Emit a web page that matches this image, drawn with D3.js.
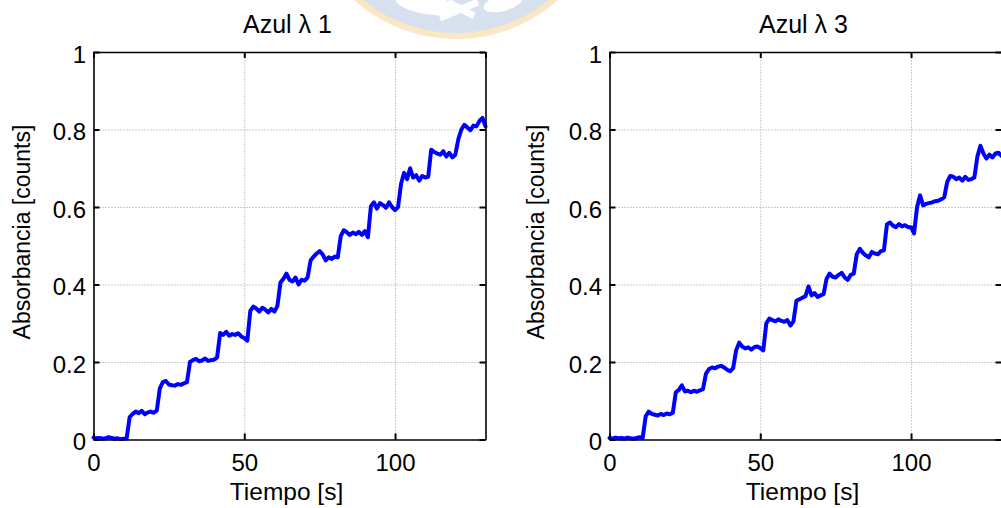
<!DOCTYPE html>
<html lang="es">
<head>
    <meta charset="UTF-8">
    <title>Azul</title>
    <script src="https://d3js.org/d3.v7.min.js"></script>
    <style>
        body { margin: 0; background: #fff; }
        text { font-family: Arial, "Liberation Sans", sans-serif; fill: #000; }
    </style>
</head>
<body>
    <script>
        // tiempo de muestreo [s], uno por segundo
        let tiempo = d3.range(0, 131);

        // absorbancia, t = 0..130
        let azul1 = [
            0.005, 0.003, 0.004, 0.002, 0.003, 0.006, 0.004, 0.002, 0.003, 0.001, 0.002, 0.003,
            0.058, 0.066, 0.072, 0.068, 0.074, 0.065, 0.070, 0.072, 0.069, 0.075,
            0.132, 0.148, 0.151, 0.142, 0.140, 0.139, 0.143, 0.141, 0.145, 0.148,
            0.200, 0.205, 0.208, 0.202, 0.204, 0.209, 0.203, 0.205, 0.206, 0.212,
            0.275, 0.270, 0.278, 0.268, 0.272, 0.270, 0.274, 0.266, 0.262, 0.255,
            0.332, 0.343, 0.338, 0.330, 0.340, 0.335, 0.328, 0.337, 0.330, 0.345,
            0.405, 0.415, 0.428, 0.412, 0.408, 0.418, 0.400, 0.412, 0.410, 0.418,
            0.462, 0.472, 0.480, 0.486, 0.478, 0.462, 0.470, 0.466, 0.472, 0.470,
            0.525, 0.540, 0.535, 0.528, 0.534, 0.530, 0.536, 0.528, 0.538, 0.522,
            0.602, 0.612, 0.596, 0.610, 0.605, 0.598, 0.612, 0.600, 0.592, 0.600,
            0.660, 0.688, 0.672, 0.700, 0.676, 0.682, 0.668, 0.680, 0.676, 0.678,
            0.748, 0.742, 0.738, 0.735, 0.744, 0.730, 0.740, 0.728, 0.735, 0.775,
            0.800, 0.812, 0.805, 0.798, 0.810, 0.808, 0.822, 0.830, 0.808
        ];

        let azul3 = [
            0.004, 0.002, 0.005, 0.003, 0.004, 0.002, 0.005, 0.003, 0.002, 0.004, 0.006, 0.004,
            0.060, 0.072, 0.066, 0.064, 0.062, 0.066, 0.063, 0.067, 0.065, 0.069,
            0.122, 0.128, 0.140, 0.124, 0.126, 0.122, 0.126, 0.123, 0.127, 0.130,
            0.170, 0.182, 0.186, 0.184, 0.188, 0.190, 0.186, 0.180, 0.176, 0.184,
            0.230, 0.250, 0.240, 0.235, 0.238, 0.232, 0.238, 0.240, 0.236, 0.230,
            0.300, 0.312, 0.308, 0.305, 0.310, 0.306, 0.304, 0.308, 0.294, 0.305,
            0.358, 0.362, 0.366, 0.370, 0.395, 0.372, 0.378, 0.368, 0.372, 0.375,
            0.415, 0.428, 0.420, 0.418, 0.425, 0.430, 0.418, 0.412, 0.425, 0.428,
            0.478, 0.492, 0.482, 0.475, 0.470, 0.484, 0.480, 0.478, 0.486, 0.488,
            0.555, 0.560, 0.552, 0.548, 0.556, 0.550, 0.553, 0.548, 0.548, 0.532,
            0.600, 0.630, 0.604, 0.608, 0.610, 0.612, 0.615, 0.616, 0.620, 0.625,
            0.665, 0.680, 0.678, 0.672, 0.676, 0.668, 0.678, 0.670, 0.672, 0.676,
            0.730, 0.758, 0.738, 0.725, 0.735, 0.728, 0.738, 0.740, 0.732
        ];

        let titulos = ['Azul \u03bb 1', 'Azul \u03bb 3'];
        let xTicks = [0, 50, 100];
        let yTicks = [0, 0.2, 0.4, 0.6, 0.8, 1];

        let width = 1001;
        let height = 508;
        let plotTop = 52, plotBottom = 439.5, plotW = 392;

        let svg = d3.select('body').append('svg')
            .attr('width', width)
            .attr('height', height)
            .style('background', '#fff');

        // marca de agua del fondo
        let wm = svg.append('g').attr('opacity', 0.4);
        wm.append('circle')
            .attr('cx', 456).attr('cy', -114).attr('r', 150)
            .attr('fill', '#9db4d6')
            .attr('stroke', '#f6c46a').attr('stroke-width', 6);
        wm.append('ellipse').attr('cx', 425).attr('cy', 4).attr('rx', 30).attr('ry', 10)
            .attr('fill', '#fff').attr('transform', 'rotate(10,425,4)');
        wm.append('ellipse').attr('cx', 503).attr('cy', 3).attr('rx', 20).attr('ry', 8)
            .attr('fill', '#fff').attr('transform', 'rotate(-15,503,3)');
        wm.append('path').attr('d', 'M440,18 L478,2 M448,2 L474,16')
            .attr('stroke', '#fff').attr('stroke-width', 7).attr('fill', 'none');

        let yScale = d3.scaleLinear().domain([0, 1]).range([plotBottom, plotTop]);

        function panel(left, titulo, valores, ylabX) {
            let xScale = d3.scaleLinear().domain([0, 130]).range([left, left + plotW]);
            let g = svg.append('g');

            // rejilla punteada
            g.append('g').attr('transform', `translate(0,${plotBottom})`)
                .call(d3.axisBottom(xScale).tickValues(xTicks.slice(1)).tickSize(-(plotBottom - plotTop)).tickFormat(''))
                .call(s => s.select('.domain').remove())
                .selectAll('line').attr('stroke', '#999').attr('stroke-dasharray', '1,2');
            g.append('g').attr('transform', `translate(${left},0)`)
                .call(d3.axisLeft(yScale).tickValues(yTicks.slice(1, 5)).tickSize(-plotW).tickFormat(''))
                .call(s => s.select('.domain').remove())
                .selectAll('line').attr('stroke', '#999').attr('stroke-dasharray', '1,2');

            // la serie
            let line = d3.line()
                .x((d, i) => xScale(tiempo[i]))
                .y(d => yScale(d));
            g.append('path').datum(valores)
                .attr('fill', 'none')
                .attr('stroke', '#0000ff')
                .attr('stroke-width', 4)
                .attr('stroke-linejoin', 'round')
                .attr('stroke-linecap', 'round')
                .attr('d', line);

            // ejes con ticks hacia dentro
            let ax = [
                g.append('g').attr('transform', `translate(0,${plotBottom})`)
                    .call(d3.axisBottom(xScale).tickValues(xTicks).tickSize(-6).tickSizeOuter(0).tickPadding(14).tickFormat(d3.format('d'))),
                g.append('g').attr('transform', `translate(${left},0)`)
                    .call(d3.axisLeft(yScale).tickValues(yTicks).tickSize(-6).tickSizeOuter(0).tickPadding(7.5).tickFormat(d => d)),
                g.append('g').attr('transform', `translate(0,${plotTop})`)
                    .call(d3.axisTop(xScale).tickValues(xTicks.concat([130])).tickSize(-6).tickSizeOuter(0).tickFormat('')),
                g.append('g').attr('transform', `translate(${left + plotW},0)`)
                    .call(d3.axisRight(yScale).tickValues(yTicks).tickSize(-6).tickSizeOuter(0).tickFormat(''))
            ];
            ax.forEach(a => {
                a.select('.domain').attr('stroke', '#000').attr('stroke-width', 1.6);
                a.selectAll('line').attr('stroke', '#000').attr('stroke-width', 2);
                a.selectAll('text').style('font-size', '24px').attr('fill', '#000');
            });
            ax[1].selectAll('text').attr('dy', '0.42em');

            g.append('text')
                .attr('x', left + plotW / 2 - 2).attr('y', 33)
                .attr('text-anchor', 'middle')
                .style('font-size', '25px')
                .text(titulo);
            g.append('text')
                .attr('x', left + plotW / 2 - 3).attr('y', 500)
                .attr('text-anchor', 'middle')
                .style('font-size', '24.5px')
                .text('Tiempo [s]');
            g.append('text')
                .attr('transform', `translate(${ylabX},232) rotate(-90)`)
                .attr('text-anchor', 'middle')
                .style('font-size', '23px')
                .text('Absorbancia [counts]');
        }

        panel(93.5, titulos[0], azul1, 30);
        panel(609.5, titulos[1], azul3, 544);
    </script>
</body>
</html>
